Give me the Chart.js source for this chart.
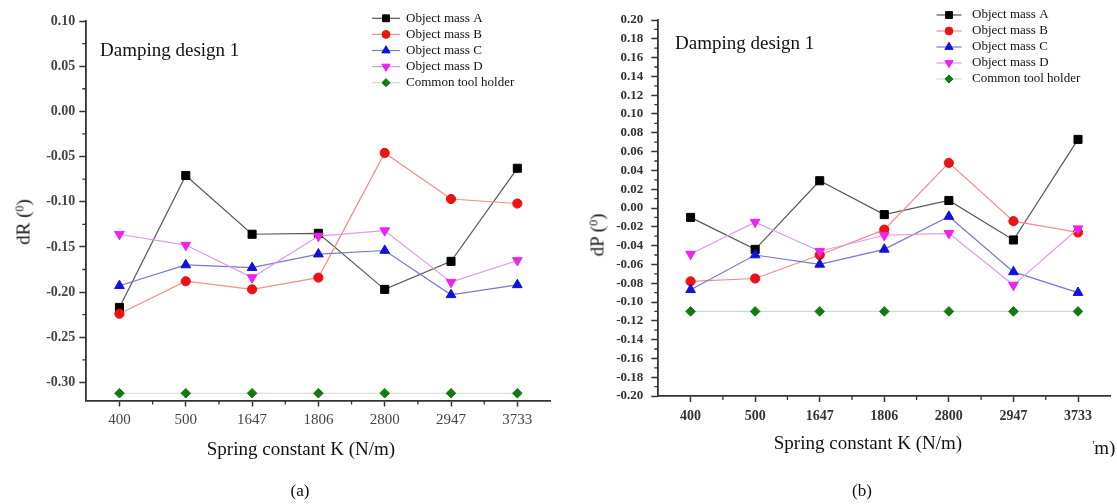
<!DOCTYPE html>
<html>
<head>
<meta charset="utf-8">
<script src="https://cdn.jsdelivr.net/npm/chart.js"></script>
<style>
  body { margin: 0; background: #fff; width: 1117px; height: 504px; position: relative; overflow: hidden;
         font-family: 'Liberation Serif', 'Times New Roman', serif; color: #111; }
  canvas { position: absolute; top: 0; }
  #chartA { left: 0; }
  #chartB { left: 560px; }
  .lbl { position: absolute; transform: translate(-50%, -50%); white-space: nowrap; line-height: 1; }
  .left { transform: translate(0, -50%); }
  .rot { transform: translate(-50%, -50%) rotate(-90deg); }
  sup { font-size: 12px; vertical-align: 6px; }
</style>
</head>
<body>
<canvas id="chartA" width="560" height="504"></canvas>
<canvas id="chartB" width="557" height="504"></canvas>

<div class="lbl rot" style="left:23px; top:222px; font-size:19px;">dR (<sup>0</sup>)</div>
<div class="lbl" style="left:301px; top:448px; font-size:19px;">Spring constant K (N/m)</div>
<div class="lbl left" style="left:100px; top:49px; font-size:19px;">Damping design 1</div>
<div class="lbl" style="left:300px; top:490px; font-size:17px;">(a)</div>

<div class="lbl rot" style="left:597px; top:235px; font-size:19px;">dP (<sup>0</sup>)</div>
<div class="lbl" style="left:868px; top:442px; font-size:19px;">Spring constant K (N/m)</div>
<div class="lbl left" style="left:675px; top:42px; font-size:19px;">Damping design 1</div>
<div class="lbl" style="left:862px; top:490px; font-size:17px;">(b)</div>
<div class="lbl left" style="left:1093px; top:447px; font-size:19px; width:24px; overflow:hidden;"><span style="position:relative; left:-4px;">/m)</span></div>

<script>
// spring constants (x categories)
const categories = ['400', '500', '1647', '1806', '2800', '2947', '3733'];
const seriesNames = ['Object mass A', 'Object mass B', 'Object mass C', 'Object mass D', 'Common tool holder'];

// (a) dR values
const dR_A = [-0.217, -0.071, -0.136, -0.135, -0.197, -0.166, -0.063];
const dR_B = [-0.224, -0.188, -0.197, -0.184, -0.046, -0.097, -0.102];
const dR_C = [-0.193, -0.170, -0.173, -0.158, -0.154, -0.203, -0.192];
const dR_D = [-0.136, -0.148, -0.184, -0.138, -0.132, -0.189, -0.165];
const dR_holder = [-0.312, -0.312, -0.312, -0.312, -0.312, -0.312, -0.312];
const dR_ticks = [0.10, 0.05, 0.00, -0.05, -0.10, -0.15, -0.20, -0.25, -0.30];

// (b) dP values
const dP_A = [-0.010, -0.044, 0.029, -0.007, 0.008, -0.034, 0.073];
const dP_B = [-0.078, -0.075, -0.050, -0.023, 0.048, -0.014, -0.026];
const dP_C = [-0.087, -0.050, -0.060, -0.044, -0.009, -0.068, -0.090];
const dP_D = [-0.049, -0.015, -0.046, -0.029, -0.027, -0.082, -0.022];
const dP_holder = [-0.110, -0.110, -0.110, -0.110, -0.110, -0.110, -0.110];
const dP_ticks = [0.20, 0.18, 0.16, 0.14, 0.12, 0.10, 0.08, 0.06, 0.04, 0.02, 0.00,
                  -0.02, -0.04, -0.06, -0.08, -0.10, -0.12, -0.14, -0.16, -0.18, -0.20];

const markers = [
  { pointStyle: 'rect', radius: 5.7, rotation: 0, fill: '#000000', line: '#555555' },
  { pointStyle: 'circle', radius: 4.6, rotation: 0, fill: '#ee1111', line: '#ef8f88' },
  { pointStyle: 'triangle', radius: 5.6, rotation: 0, fill: '#1111dd', line: '#7777cc' },
  { pointStyle: 'triangle', radius: 5.6, rotation: 180, fill: '#ee22ee', line: '#dd99e6' },
  { pointStyle: 'rectRot', radius: 4.8, rotation: 0, fill: '#137a13', line: '#cfd9cf' }
];

function buildDatasets(series) {
  return series.map((vals, i) => ({
    label: seriesNames[i],
    data: vals,
    borderColor: markers[i].line,
    borderWidth: 1.2,
    pointStyle: markers[i].pointStyle,
    pointRotation: markers[i].rotation,
    pointRadius: markers[i].radius,
    pointBackgroundColor: markers[i].fill,
    pointBorderColor: markers[i].fill,
    pointBorderWidth: 1,
    tension: 0,
    clip: false
  })).reverse();
}

// small ticks between the labelled ones
const minorTicks = {
  id: 'minorTicks',
  afterDraw(chart, args, o) {
    const ctx = chart.ctx, x = chart.scales.x, y = chart.scales.y;
    ctx.save();
    ctx.strokeStyle = o.color;
    ctx.lineWidth = 1.3;
    ctx.beginPath();
    const t = y.ticks;
    for (let i = 0; i < t.length - 1; i++) {
      const py = y.getPixelForValue((t[i].value + t[i + 1].value) / 2);
      ctx.moveTo(y.right - o.len, py);
      ctx.lineTo(y.right, py);
    }
    for (let i = 0; i < categories.length - 1; i++) {
      const px = (x.getPixelForValue(i) + x.getPixelForValue(i + 1)) / 2;
      ctx.moveTo(px, x.top);
      ctx.lineTo(px, x.top + o.len);
    }
    ctx.stroke();
    ctx.restore();
  }
};

// legend drawn inside the plot, top right
const insideLegend = {
  id: 'insideLegend',
  afterDraw(chart, args, o) {
    const ctx = chart.ctx;
    const sets = chart.data.datasets.slice().reverse();
    sets.forEach((ds, i) => {
      const cy = o.y + i * o.dy;
      ctx.save();
      ctx.strokeStyle = ds.borderColor;
      ctx.lineWidth = 1.2;
      ctx.beginPath();
      ctx.moveTo(o.x - o.half, cy);
      ctx.lineTo(o.x + o.half, cy);
      ctx.stroke();
      ctx.fillStyle = ds.pointBackgroundColor;
      ctx.strokeStyle = ds.pointBorderColor;
      ctx.lineWidth = 1;
      Chart.helpers.drawPoint(ctx, {
        pointStyle: ds.pointStyle, rotation: ds.pointRotation,
        radius: ds.pointRadius * o.scale, borderWidth: 1
      }, o.x, cy);
      ctx.fillStyle = '#111';
      ctx.font = o.font;
      ctx.textBaseline = 'middle';
      ctx.textAlign = 'left';
      ctx.fillText(ds.label, o.textX, cy);
      ctx.restore();
    });
  }
};

function makeChart(id, series, yTicks, yMin, yMax, cfg) {
  return new Chart(document.getElementById(id), {
    type: 'line',
    data: { labels: categories, datasets: buildDatasets(series) },
    options: {
      responsive: false,
      animation: false,
      devicePixelRatio: 1,
      layout: { padding: cfg.padding },
      plugins: {
        legend: { display: false },
        title: { display: false },
        tooltip: { enabled: false },
        minorTicks: { len: 4, color: '#333' },
        insideLegend: cfg.legend
      },
      scales: {
        x: {
          type: 'category',
          offset: true,
          grid: { display: true, drawOnChartArea: false, tickLength: 6, tickColor: '#333', tickWidth: 1.5 },
          border: { display: true, color: '#333', width: 1.8 },
          ticks: { font: cfg.xFont, color: cfg.tickColor, padding: cfg.xPad, maxRotation: 0, autoSkip: false },
          afterFit: s => { s.height = 60; }
        },
        y: {
          min: yMin,
          max: yMax,
          afterBuildTicks: s => { s.ticks = yTicks.map(v => ({ value: v })); },
          grid: { display: true, drawOnChartArea: false, tickLength: 7, tickColor: '#333', tickWidth: 1.5 },
          border: { display: true, color: '#333', width: 1.8 },
          ticks: { font: cfg.yFont, color: cfg.tickColor, padding: cfg.yPad, callback: v => v.toFixed(2) },
          afterFit: s => { s.width = cfg.yWidth; }
        }
      }
    },
    plugins: [minorTicks, insideLegend]
  });
}

makeChart('chartA', [dR_A, dR_B, dR_C, dR_D, dR_holder], dR_ticks, -0.32, 0.10, {
  padding: { left: 0, top: 21, right: 9.5, bottom: 43.5 },
  yWidth: 86.3,
  xFont: { family: 'Liberation Serif', size: 15 },
  yFont: { family: 'Liberation Serif', size: 14, weight: 'bold' },
  tickColor: '#444',
  xPad: 5,
  yPad: 4,
  legend: { x: 386, y: 18.3, dy: 16.1, half: 14, textX: 406, scale: 0.85, font: '13px "Liberation Serif"' }
});

makeChart('chartB', [dP_A, dP_B, dP_C, dP_D, dP_holder], dP_ticks, -0.20, 0.20, {
  padding: { left: 0, top: 20, right: 1, bottom: 48 },
  yWidth: 98.3,
  xFont: { family: 'Liberation Serif', size: 14, weight: 'bold' },
  yFont: { family: 'Liberation Serif', size: 13, weight: 'bold' },
  tickColor: '#333',
  xPad: 6,
  yPad: 8,
  legend: { x: 389, y: 15, dy: 16, half: 12.5, textX: 412, scale: 0.85, font: '13px "Liberation Serif"' }
});
</script>
</body>
</html>
